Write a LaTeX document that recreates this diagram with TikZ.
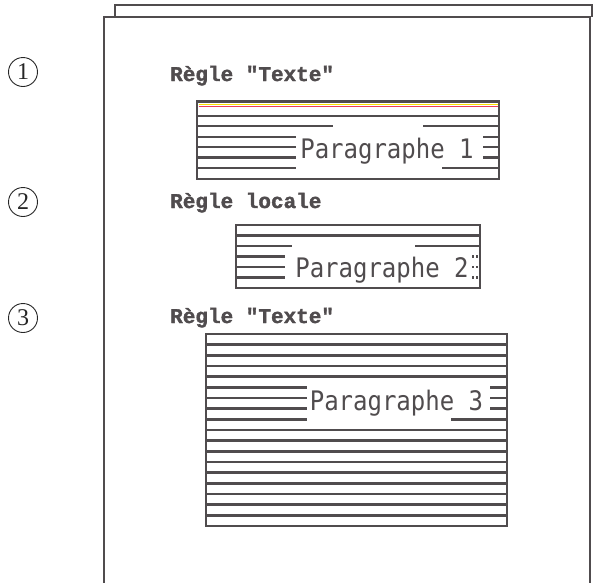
\documentclass[tikz,border=0pt]{standalone}
\usepackage{fontspec}
\setmainfont{Liberation Serif}
\newfontfamily\parafont{DejaVu Sans Mono}
\newfontfamily\headfont[BoldFeatures={FakeBold=1.6}]{Liberation Mono}
\definecolor{ink}{RGB}{80,76,78}
\definecolor{hiyellow}{RGB}{250,225,0}
\definecolor{hired}{RGB}{235,60,90}
\begin{document}
\begin{tikzpicture}[x=1pt,y=-1pt,
  ruleline/.style={draw=ink, line width=2.4pt},
  boxline/.style={draw=ink, line width=2.8pt},
  page/.style={draw=ink, line width=2.8pt},
  heading/.style={anchor=base west, inner sep=0pt, text=ink, font=\headfont\bfseries\fontsize{21}{21}\selectfont},
  paratext/.style={inner sep=0pt, text=ink, font=\parafont\fontsize{24}{24}\selectfont},
  num/.style={circle, draw=black!85, line width=0.9pt, minimum size=29pt, inner sep=0pt, text=black!85, font=\fontsize{24}{24}\selectfont}]
\useasboundingbox (0,0) rectangle (594,582);
\fill[white] (0,0) rectangle (594,582);
% pages
\draw[page] (115,17) -- (115,5) -- (592,5) -- (592,17);
\fill[white] (104,17) rectangle (590,590);
\draw[page] (104,590) -- (104,17) -- (590,17) -- (590,590);
% numbers
\node[num] (n1) at (23,72) {1};
\node[num] (n2) at (23,202) {2};
\node[num] (n3) at (23,318) {3};
% headings
\node[heading] (h1) at (170,81) {Règle "Texte"};
\node[heading] (h2) at (170,208) {Règle locale};
\node[heading] (h3) at (170,323) {Règle "Texte"};
% box 1
\draw[hiyellow, line width=1.8pt] (198.5,104.5) -- (497.5,104.5);
\draw[hired, line width=0.8pt] (198.5,106.4) -- (497.5,106.4);
\draw[ruleline] (197,116) -- (499,116);
\draw[ruleline] (197,126) -- (333,126) (423,126) -- (499,126);
\foreach \y in {137,147,157.5}{
  \draw[ruleline] (197,\y) -- (296,\y) (483,\y) -- (499,\y);
}
\draw[ruleline] (197,168) -- (296,168) (442,168) -- (499,168);
\draw[boxline] (197,101.5) rectangle (499,179);
\node[paratext] (p1) at (387,151.5) {\scalebox{1}[1.12]{Paragraphe 1}};
% box 2
\draw[ruleline] (236,235.5) -- (480,235.5);
\draw[ruleline] (236,246) -- (292,246) (415,246) -- (480,246);
\foreach \y in {256.5,267,277.5}{
  \draw[ruleline] (236,\y) -- (285,\y);
  \draw[ruleline, dash pattern=on 2pt off 2pt] (472,\y) -- (480,\y);
}
\draw[boxline] (236,225) rectangle (480,288);
\node[paratext] (p2) at (382,270) {\scalebox{1}[1.12]{Paragraphe 2}};
% box 3
\foreach \k in {1,2,3,4,9,10,11,12,13,14,15,16,17}{
  \draw[ruleline] (206,334+10.667*\k) -- (507,334+10.667*\k);
}
\foreach \k in {5,6,7}{
  \draw[ruleline] (206,334+10.667*\k) -- (307,334+10.667*\k) (490,334+10.667*\k) -- (507,334+10.667*\k);
}
\draw[ruleline] (206,419.3) -- (307,419.3) (451,419.3) -- (507,419.3);
\draw[boxline] (206,334) rectangle (507,526);
\node[paratext] (p3) at (396.5,403) {\scalebox{1}[1.12]{Paragraphe 3}};
\end{tikzpicture}
\end{document}
